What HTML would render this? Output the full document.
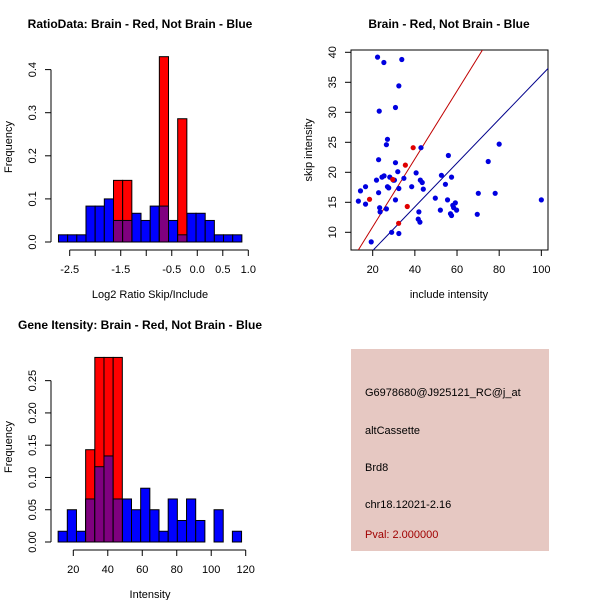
<!DOCTYPE html>
<html><head><meta charset="utf-8"><style>
body{margin:0;background:#fff;}
svg{display:block;font-family:"Liberation Sans",sans-serif;}
</style></head><body>
<svg id="chart" width="600" height="600" xmlns="http://www.w3.org/2000/svg">
<rect x="0" y="0" width="600" height="600" fill="#fff"/>
<text x="140" y="28" font-size="12" font-weight="bold" text-anchor="middle">RatioData: Brain - Red, Not Brain - Blue</text>
<text x="150" y="298" font-size="11" text-anchor="middle">Log2 Ratio Skip/Include</text>
<text transform="translate(12,147) rotate(-90)" font-size="11" text-anchor="middle">Frequency</text>
<text x="449" y="28" font-size="12" font-weight="bold" text-anchor="middle">Brain - Red, Not Brain - Blue</text>
<text x="449" y="298" font-size="11" text-anchor="middle">include intensity</text>
<text transform="translate(312,150) rotate(-90)" font-size="11" text-anchor="middle">skip intensity</text>
<text x="140" y="329" font-size="12" font-weight="bold" text-anchor="middle">Gene Itensity: Brain - Red, Not Brain - Blue</text>
<text x="150" y="598" font-size="11" text-anchor="middle">Intensity</text>
<text transform="translate(12,447) rotate(-90)" font-size="11" text-anchor="middle">Frequency</text>
<g>
<rect x="351" y="349" width="198" height="202" fill="#e6c8c2"/>
<text x="365" y="396" font-size="11">G6978680@J925121_RC@j_at</text>
<text x="365" y="434" font-size="11">altCassette</text>
<text x="365" y="471" font-size="11">Brd8</text>
<text x="365" y="508" font-size="11">chr18.12021-2.16</text>
<text x="365" y="538" font-size="11" fill="#a00000">Pval: 2.000000</text>
</g>
</svg>
<script>
// Ratio histogram data
const ratioBlue = [1,1,1,5,5,6,3,3,4,3,5,5,3,1,4,4,3,1,1,1].map(v=>v/60);
const ratioRed = [0,0,0,0,0,0,0.143,0.143,0,0,0,0.43,0,0.286,0,0,0,0,0,0];
const ratioXTicks = [-2.5,-2.0,-1.5,-1.0,-0.5,0.0,0.5,1.0];
const ratioXLabels = ["-2.5","","-1.5","","-0.5","0.0","0.5","1.0"];
const ratioYTicks = [0,0.1,0.2,0.3,0.4];
const ratioYLabels = ["0.0","0.1","0.2","0.3","0.4"];
const ratioStart = -2.72, ratioBinW = 0.1797;
// Intensity histogram data
const intBlue = [1,3,1,4,7,8,4,4,3,5,3,1,4,2,4,2,0,3,0,1].map(v=>v/60);
const intRed = [0,0,0,0.143,0.286,0.286,0.286,0,0,0,0,0,0,0,0,0,0,0,0,0];
const intXTicks = [20,40,60,80,100,120];
const intYTicks = [0,0.05,0.10,0.15,0.20,0.25];
const intYLabels = ["0.00","0.05","0.10","0.15","0.20","0.25"];
const intStart = 11.2, intBinW = 5.32;
// Scatter data
const blueX = [13.2,14.2,16.6,16.6,19.3,21.8,22.3,22.8,22.8,23.1,23.3,23.5,24.4,25.3,25.4,26.5,26.5,27.0,27.0,27.6,28.1,29.0,29.8,30.3,30.8,30.8,30.8,31.9,32.4,32.4,32.4,33.8,34.8,38.5,40.6,41.9,41.6,42.4,42.6,43.5,44.0,42.9,49.7,52.1,52.6,54.5,55.5,55.9,56.9,57.4,57.4,58.0,58.4,59.2,59.8,69.6,70.1,74.8,78.1,80.0,100.0];
const blueY = [15.2,16.9,17.6,14.7,8.4,18.7,39.2,22.1,16.6,30.2,14.1,13.4,19.2,38.3,19.4,13.9,24.6,25.5,17.6,17.4,19.2,10.0,18.7,18.7,21.6,30.8,15.4,20.1,17.3,34.4,9.8,38.8,19.0,17.6,19.9,13.4,12.2,11.7,18.7,18.3,17.2,24.1,15.7,13.7,19.5,18.0,15.4,22.8,13.1,12.8,19.2,14.5,14.1,14.9,13.7,13.0,16.5,21.8,16.5,24.7,15.4];
const redX = [18.5,29.5,32.3,35.5,36.4,39.2];
const redY = [15.5,18.8,11.5,21.2,14.3,24.1];
const lineSlope = [0.566,0.365];
const lineIntercept = [-0.41,-0.35];
const lineColor = ["#c00000","#00008b"];

const svg = document.getElementById('chart');
const NS = 'http://www.w3.org/2000/svg';
function mk(tag, attrs){const e=document.createElementNS(NS,tag);for(const k in attrs)e.setAttribute(k,attrs[k]);svg.appendChild(e);return e;}

function histogram(prefix, blue, red, start, binW, xs, ys, xTicks, xLabels, yTicks, yLabels, axisY){
  blue.forEach((v,i)=>{
    const x0=xs(start+i*binW), x1=xs(start+(i+1)*binW);
    if(v>0){
      const r=mk('rect',{x:x0,y:ys(v),width:x1-x0,height:ys(0)-ys(v),fill:'#0000ff',stroke:'#000','stroke-width':1});
      
      
    }
  });
  red.forEach((v,i)=>{
    if(v<=0) return;
    const x0=xs(start+i*binW), x1=xs(start+(i+1)*binW);
    const r=mk('rect',{x:x0,y:ys(v),width:x1-x0,height:ys(0)-ys(v),fill:'#ff0000',stroke:'#000','stroke-width':1});
    
    
    const m=Math.min(v,blue[i]);
    if(m>0){
      const p=mk('rect',{x:x0,y:ys(m),width:x1-x0,height:ys(0)-ys(m),fill:'#7f007f',stroke:'#000','stroke-width':1});
      
      
    }
  });
  const xa=mk('line',{x1:xs(xTicks[0]),x2:xs(xTicks[xTicks.length-1]),y1:axisY,y2:axisY,stroke:'#000'});
  
  
  xTicks.forEach((t,i)=>{
    mk('line',{x1:xs(t),x2:xs(t),y1:axisY,y2:axisY+6,stroke:'#000'});
    if(xLabels[i]){
      const tx=mk('text',{x:xs(t),y:axisY+23,'font-size':11,'text-anchor':'middle'});
      tx.textContent=xLabels[i];
      
      
    }
  });
  const ya=mk('line',{x1:51,x2:51,y1:ys(yTicks[0]),y2:ys(yTicks[yTicks.length-1]),stroke:'#000'});
  
  
  yTicks.forEach((t,i)=>{
    mk('line',{x1:45,x2:51,y1:ys(t),y2:ys(t),stroke:'#000'});
    const tx=mk('text',{transform:`translate(36,${ys(t)}) rotate(-90)`,'font-size':11,'text-anchor':'middle'});
    tx.textContent=yLabels[i];
    
    
  });
}

// Ratio
const rxs=v=>69.7+(v+2.5)*51.03, rys=v=>242-v*431;
histogram('ratio', ratioBlue, ratioRed, ratioStart, ratioBinW, rxs, rys, ratioXTicks, ratioXLabels, ratioYTicks, ratioYLabels, 250);
// Intensity
const ixs=v=>73.3+(v-20)*1.724, iys=v=>542-v*645.4;
histogram('intensity', intBlue, intRed, intStart, intBinW, ixs, iys, intXTicks, intXTicks.map(String), intYTicks, intYLabels, 550);

// Scatter
const sxs=v=>372.7+(v-20)*2.108, sys=v=>232.3-(v-10)*6;
const box=mk('rect',{x:351,y:50,width:197,height:200,fill:'none',stroke:'#000'});


const cp=document.createElementNS(NS,'clipPath');cp.setAttribute('id','sc');
const cr=document.createElementNS(NS,'rect');cr.setAttribute('x',351);cr.setAttribute('y',50);cr.setAttribute('width',197);cr.setAttribute('height',200);
cp.appendChild(cr);svg.appendChild(cp);
lineSlope.forEach((s,i)=>{
  const xa=0,xb=120;
  const l=mk('line',{x1:sxs(xa),y1:sys(s*xa+lineIntercept[i]),x2:sxs(xb),y2:sys(s*xb+lineIntercept[i]),stroke:lineColor[i],'stroke-width':1,'clip-path':'url(#sc)'});
  
  
});
blueX.forEach((x,i)=>{
  const c=mk('circle',{cx:sxs(x),cy:sys(blueY[i]),r:2.6,fill:'#0000e0'});
  
  
});
redX.forEach((x,i)=>{
  const c=mk('circle',{cx:sxs(x),cy:sys(redY[i]),r:2.6,fill:'#e00000'});
  
  
});
[20,40,60,80,100].forEach(t=>{
  mk('line',{x1:sxs(t),x2:sxs(t),y1:250,y2:256,stroke:'#000'});
  const tx=mk('text',{x:sxs(t),y:273,'font-size':11,'text-anchor':'middle'});
  tx.textContent=String(t);
  
  
});
[10,15,20,25,30,35,40].forEach(t=>{
  mk('line',{x1:345,x2:351,y1:sys(t),y2:sys(t),stroke:'#000'});
  const tx=mk('text',{transform:`translate(336,${sys(t)}) rotate(-90)`,'font-size':11,'text-anchor':'middle'});
  tx.textContent=String(t);
  
  
});
</script>
</body></html>
